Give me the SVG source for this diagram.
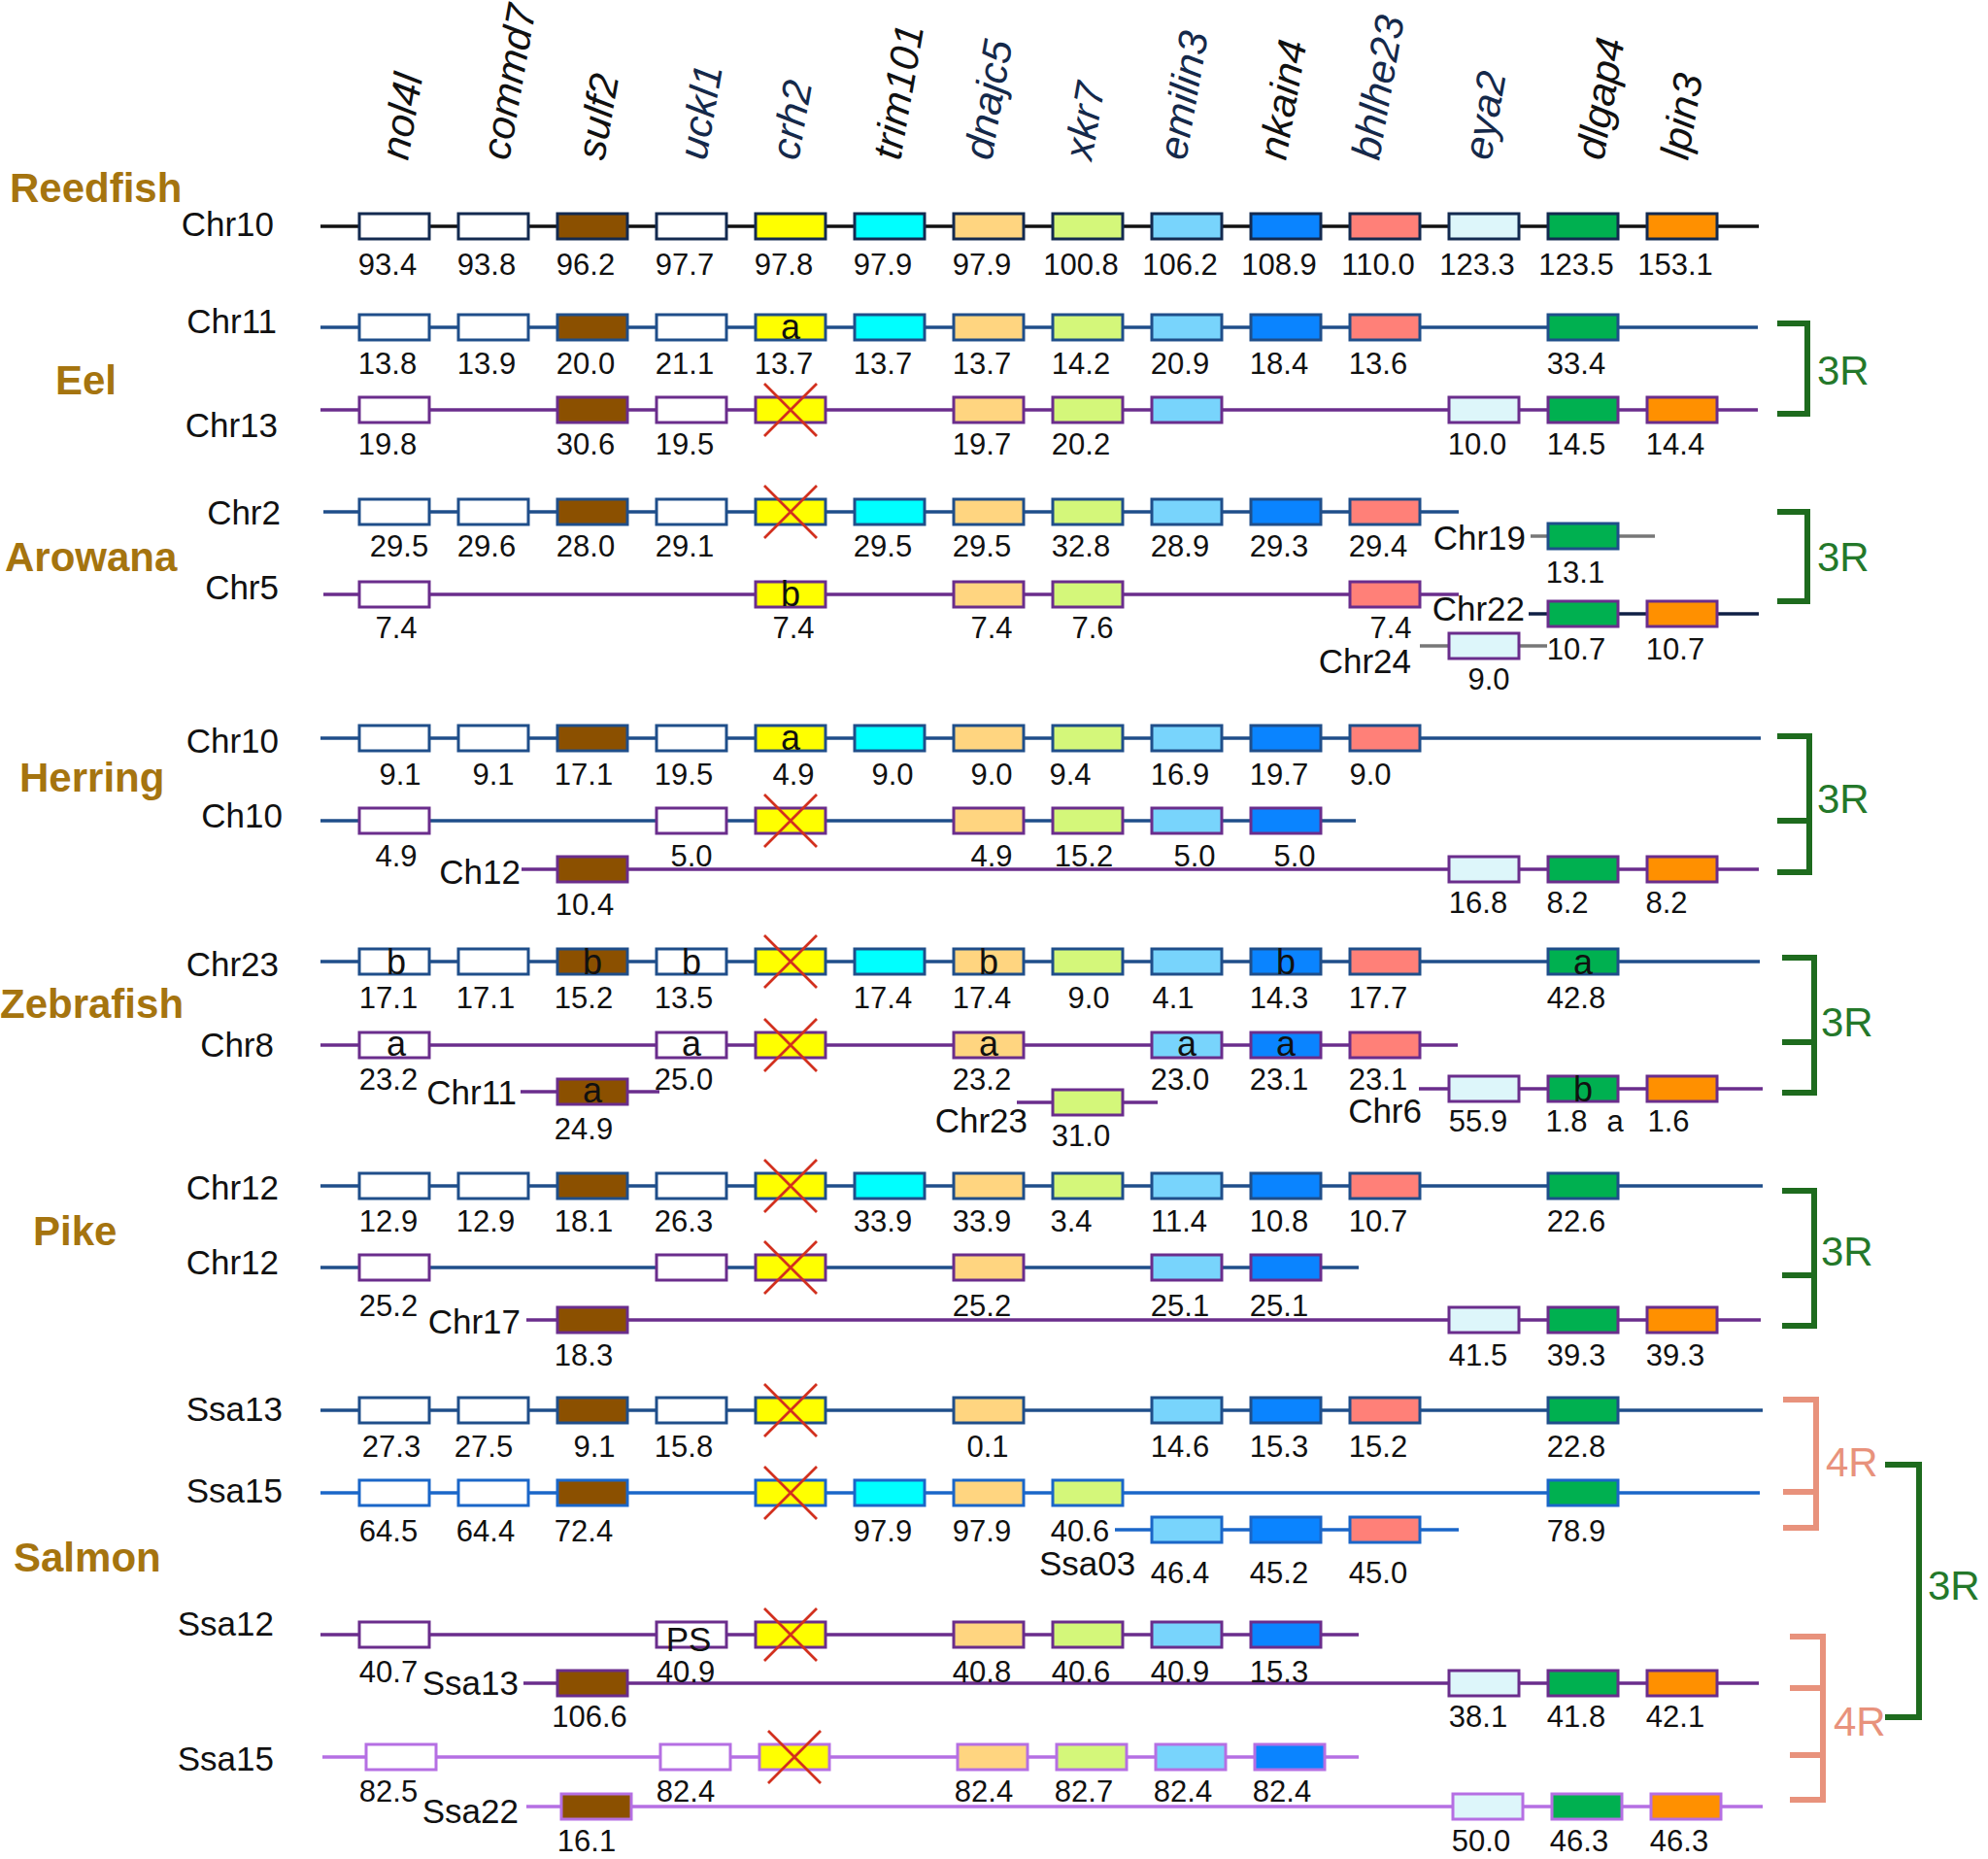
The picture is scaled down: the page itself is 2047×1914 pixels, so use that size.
<svg xmlns="http://www.w3.org/2000/svg" width="2047" height="1914" viewBox="0 0 2047 1914">
<style>
text{font-family:"Liberation Sans",Arial,Helvetica,sans-serif;fill:#111}
.n{font-size:31px;text-anchor:middle}
.ch{font-size:35px;text-anchor:end}
.chs{font-size:35px}
.spc{font-size:42px;font-weight:bold;fill:#a5740f}
.gn{font-size:42px;font-style:italic}
.gv{fill:#15294a}
.bl{font-size:36px;text-anchor:middle}
.r3{font-size:42px;fill:#24782a}
.r4{font-size:42px;fill:#e8927c}
.line{fill:none;stroke-width:3.5}
.lk{stroke:#111}
.lb{stroke:#1f4e8a}
.lp{stroke:#6a2d8c}
.lbb{stroke:#1a66c8}
.ll{stroke:#b56fe3}
.lg{stroke:#777}
.ln{stroke:#0f1f45}
rect{stroke-width:3}
.sk{stroke:#132a50}
.sb{stroke:#1f4e8a}
.sp{stroke:#6a2d8c}
.sbb{stroke:#1a66c8}
.sl{stroke:#b56fe3}
.f0{fill:#fff}.f2{fill:#8b5000}.f4{fill:#ffff00}.f5{fill:#00ffff}.f6{fill:#ffd580}.f7{fill:#d4f77a}.f8{fill:#78d4fc}.f9{fill:#0a84ff}.f10{fill:#ff8078}.f11{fill:#ddf6fa}.f12{fill:#00b050}.f13{fill:#ff9000}
.grn{fill:none;stroke:#1e6b1e;stroke-width:6}
.sal{fill:none;stroke:#e8927c;stroke-width:6}
</style>
<defs>
<path id="xm" d="M-27,-27L27,27M27,-27L-27,27" fill="none" stroke="#d2301e" stroke-width="2.8"/>
</defs>

<g id="gene-names">
<text class="gn" transform="translate(420,166) rotate(-80)">nol4l</text>
<text class="gn" transform="translate(524,166) rotate(-80)">commd7</text>
<text class="gn" transform="translate(622,166) rotate(-80)">sulf2</text>
<text class="gn gv" transform="translate(727,166) rotate(-80)">uckl1</text>
<text class="gn gv" transform="translate(822,166) rotate(-80)">crh2</text>
<text class="gn" transform="translate(927,166) rotate(-80)">trim101</text>
<text class="gn gv" transform="translate(1021,166) rotate(-80)">dnajc5</text>
<text class="gn gv" transform="translate(1124,166) rotate(-80)">xkr7</text>
<text class="gn gv" transform="translate(1221,166) rotate(-80)">emilin3</text>
<text class="gn" transform="translate(1324,166) rotate(-80)">nkain4</text>
<text class="gn gv" transform="translate(1420,166) rotate(-80)">bhlhe23</text>
<text class="gn gv" transform="translate(1535,166) rotate(-80)">eya2</text>
<text class="gn" transform="translate(1651,166) rotate(-80)">dlgap4</text>
<text class="gn" transform="translate(1738,166) rotate(-80)">lpin3</text>
</g>

<g id="species-labels">
<text class="spc" x="10" y="208">Reedfish</text>
<text class="spc" x="57" y="406">Eel</text>
<text class="spc" x="5" y="588">Arowana</text>
<text class="spc" x="20" y="815">Herring</text>
<text class="spc" x="0" y="1048">Zebrafish</text>
<text class="spc" x="34" y="1282">Pike</text>
<text class="spc" x="14" y="1618">Salmon</text>
</g>

<g id="chromosome-lines">
<line class="line lk" x1="330" y1="233" x2="1811" y2="233"/>
<line class="line lb" x1="330" y1="337" x2="1810" y2="337"/>
<line class="line lp" x1="330" y1="422" x2="1810" y2="422"/>
<line class="line lb" x1="333" y1="527" x2="1502" y2="527"/>
<line class="line lg" x1="1576" y1="552" x2="1704" y2="552"/>
<line class="line lp" x1="333" y1="612" x2="1502" y2="612"/>
<line class="line ln" x1="1574" y1="632" x2="1811" y2="632"/>
<line class="line lg" x1="1462" y1="665" x2="1593" y2="665"/>
<line class="line lb" x1="330" y1="760" x2="1813" y2="760"/>
<line class="line lb" x1="330" y1="845" x2="1396" y2="845"/>
<line class="line lp" x1="537" y1="895" x2="1811" y2="895"/>
<line class="line lb" x1="330" y1="990" x2="1812" y2="990"/>
<line class="line lp" x1="330" y1="1076" x2="1501" y2="1076"/>
<line class="line lp" x1="536" y1="1124" x2="679" y2="1124"/>
<line class="line lp" x1="1047" y1="1135" x2="1192" y2="1135"/>
<line class="line lp" x1="1461" y1="1121" x2="1815" y2="1121"/>
<line class="line lb" x1="330" y1="1221" x2="1815" y2="1221"/>
<line class="line lb" x1="330" y1="1305" x2="1399" y2="1305"/>
<line class="line lp" x1="542" y1="1359" x2="1813" y2="1359"/>
<line class="line lb" x1="330" y1="1452" x2="1815" y2="1452"/>
<line class="line lbb" x1="330" y1="1537" x2="1812" y2="1537"/>
<line class="line lbb" x1="1148" y1="1575" x2="1502" y2="1575"/>
<line class="line lp" x1="330" y1="1683" x2="1399" y2="1683"/>
<line class="line lp" x1="539" y1="1733" x2="1811" y2="1733"/>
<line class="line ll" x1="332" y1="1809" x2="1399" y2="1809"/>
<line class="line ll" x1="542" y1="1860" x2="1815" y2="1860"/>
</g>

<g id="reedfish-chr10">
<text class="ch" x="282" y="243">Chr10</text>
<rect class="f0 sk" x="370" y="220" width="72" height="26"/>
<rect class="f0 sk" x="472" y="220" width="72" height="26"/>
<rect class="f2 sk" x="574" y="220" width="72" height="26"/>
<rect class="f0 sk" x="676" y="220" width="72" height="26"/>
<rect class="f4 sk" x="778" y="220" width="72" height="26"/>
<rect class="f5 sk" x="880" y="220" width="72" height="26"/>
<rect class="f6 sk" x="982" y="220" width="72" height="26"/>
<rect class="f7 sk" x="1084" y="220" width="72" height="26"/>
<rect class="f8 sk" x="1186" y="220" width="72" height="26"/>
<rect class="f9 sk" x="1288" y="220" width="72" height="26"/>
<rect class="f10 sk" x="1390" y="220" width="72" height="26"/>
<rect class="f11 sk" x="1492" y="220" width="72" height="26"/>
<rect class="f12 sk" x="1594" y="220" width="72" height="26"/>
<rect class="f13 sk" x="1696" y="220" width="72" height="26"/>
<text class="n" x="399" y="283">93.4</text>
<text class="n" x="501" y="283">93.8</text>
<text class="n" x="603" y="283">96.2</text>
<text class="n" x="705" y="283">97.7</text>
<text class="n" x="807" y="283">97.8</text>
<text class="n" x="909" y="283">97.9</text>
<text class="n" x="1011" y="283">97.9</text>
<text class="n" x="1113" y="283">100.8</text>
<text class="n" x="1215" y="283">106.2</text>
<text class="n" x="1317" y="283">108.9</text>
<text class="n" x="1419" y="283">110.0</text>
<text class="n" x="1521" y="283">123.3</text>
<text class="n" x="1623" y="283">123.5</text>
<text class="n" x="1725" y="283">153.1</text>
</g>

<g id="eel-chr11">
<text class="ch" x="285" y="343">Chr11</text>
<rect class="f0 sb" x="370" y="324" width="72" height="26"/>
<rect class="f0 sb" x="472" y="324" width="72" height="26"/>
<rect class="f2 sb" x="574" y="324" width="72" height="26"/>
<rect class="f0 sb" x="676" y="324" width="72" height="26"/>
<rect class="f4 sb" x="778" y="324" width="72" height="26"/>
<rect class="f5 sb" x="880" y="324" width="72" height="26"/>
<rect class="f6 sb" x="982" y="324" width="72" height="26"/>
<rect class="f7 sb" x="1084" y="324" width="72" height="26"/>
<rect class="f8 sb" x="1186" y="324" width="72" height="26"/>
<rect class="f9 sb" x="1288" y="324" width="72" height="26"/>
<rect class="f10 sb" x="1390" y="324" width="72" height="26"/>
<rect class="f12 sb" x="1594" y="324" width="72" height="26"/>
<text class="bl" x="814" y="349">a</text>
<text class="n" x="399" y="385">13.8</text>
<text class="n" x="501" y="385">13.9</text>
<text class="n" x="603" y="385">20.0</text>
<text class="n" x="705" y="385">21.1</text>
<text class="n" x="807" y="385">13.7</text>
<text class="n" x="909" y="385">13.7</text>
<text class="n" x="1011" y="385">13.7</text>
<text class="n" x="1113" y="385">14.2</text>
<text class="n" x="1215" y="385">20.9</text>
<text class="n" x="1317" y="385">18.4</text>
<text class="n" x="1419" y="385">13.6</text>
<text class="n" x="1623" y="385">33.4</text>
</g>

<g id="eel-chr13">
<text class="ch" x="286" y="450">Chr13</text>
<rect class="f0 sp" x="370" y="409" width="72" height="26"/>
<rect class="f2 sp" x="574" y="409" width="72" height="26"/>
<rect class="f0 sp" x="676" y="409" width="72" height="26"/>
<rect class="f4 sp" x="778" y="409" width="72" height="26"/>
<rect class="f6 sp" x="982" y="409" width="72" height="26"/>
<rect class="f7 sp" x="1084" y="409" width="72" height="26"/>
<rect class="f8 sp" x="1186" y="409" width="72" height="26"/>
<rect class="f11 sp" x="1492" y="409" width="72" height="26"/>
<rect class="f12 sp" x="1594" y="409" width="72" height="26"/>
<rect class="f13 sp" x="1696" y="409" width="72" height="26"/>
<use href="#xm" x="814" y="422"/>
<text class="n" x="399" y="468">19.8</text>
<text class="n" x="603" y="468">30.6</text>
<text class="n" x="705" y="468">19.5</text>
<text class="n" x="1011" y="468">19.7</text>
<text class="n" x="1113" y="468">20.2</text>
<text class="n" x="1521" y="468">10.0</text>
<text class="n" x="1623" y="468">14.5</text>
<text class="n" x="1725" y="468">14.4</text>
</g>

<g id="arowana-chr2">
<text class="ch" x="289" y="540">Chr2</text>
<rect class="f0 sb" x="370" y="514" width="72" height="26"/>
<rect class="f0 sb" x="472" y="514" width="72" height="26"/>
<rect class="f2 sb" x="574" y="514" width="72" height="26"/>
<rect class="f0 sb" x="676" y="514" width="72" height="26"/>
<rect class="f4 sb" x="778" y="514" width="72" height="26"/>
<rect class="f5 sb" x="880" y="514" width="72" height="26"/>
<rect class="f6 sb" x="982" y="514" width="72" height="26"/>
<rect class="f7 sb" x="1084" y="514" width="72" height="26"/>
<rect class="f8 sb" x="1186" y="514" width="72" height="26"/>
<rect class="f9 sb" x="1288" y="514" width="72" height="26"/>
<rect class="f10 sb" x="1390" y="514" width="72" height="26"/>
<use href="#xm" x="814" y="527"/>
<text class="n" x="411" y="573">29.5</text>
<text class="n" x="501" y="573">29.6</text>
<text class="n" x="603" y="573">28.0</text>
<text class="n" x="705" y="573">29.1</text>
<text class="n" x="909" y="573">29.5</text>
<text class="n" x="1011" y="573">29.5</text>
<text class="n" x="1113" y="573">32.8</text>
<text class="n" x="1215" y="573">28.9</text>
<text class="n" x="1317" y="573">29.3</text>
<text class="n" x="1419" y="573">29.4</text>
</g>

<g id="arowana-chr19">
<text class="ch" x="1571" y="566">Chr19</text>
<rect class="f12 sb" x="1594" y="539" width="72" height="26"/>
<text class="n" x="1622" y="600">13.1</text>
</g>

<g id="arowana-chr5">
<text class="ch" x="287" y="617">Chr5</text>
<rect class="f0 sp" x="370" y="599" width="72" height="26"/>
<rect class="f4 sp" x="778" y="599" width="72" height="26"/>
<rect class="f6 sp" x="982" y="599" width="72" height="26"/>
<rect class="f7 sp" x="1084" y="599" width="72" height="26"/>
<rect class="f10 sp" x="1390" y="599" width="72" height="26"/>
<text class="bl" x="814" y="624">b</text>
<text class="n" x="408" y="657">7.4</text>
<text class="n" x="817" y="657">7.4</text>
<text class="n" x="1021" y="657">7.4</text>
<text class="n" x="1125" y="657">7.6</text>
<text class="n" x="1432" y="657">7.4</text>
</g>

<g id="arowana-chr22">
<text class="ch" x="1570" y="639">Chr22</text>
<rect class="f12 sp" x="1594" y="619" width="72" height="26"/>
<rect class="f13 sp" x="1696" y="619" width="72" height="26"/>
<text class="n" x="1623" y="679">10.7</text>
<text class="n" x="1725" y="679">10.7</text>
</g>

<g id="arowana-chr24">
<text class="ch" x="1453" y="693">Chr24</text>
<rect class="f11 sp" x="1492" y="652" width="72" height="26"/>
<text class="n" x="1533" y="710">9.0</text>
</g>

<g id="herring-chr10">
<text class="ch" x="287" y="775">Chr10</text>
<rect class="f0 sb" x="370" y="747" width="72" height="26"/>
<rect class="f0 sb" x="472" y="747" width="72" height="26"/>
<rect class="f2 sb" x="574" y="747" width="72" height="26"/>
<rect class="f0 sb" x="676" y="747" width="72" height="26"/>
<rect class="f4 sb" x="778" y="747" width="72" height="26"/>
<rect class="f5 sb" x="880" y="747" width="72" height="26"/>
<rect class="f6 sb" x="982" y="747" width="72" height="26"/>
<rect class="f7 sb" x="1084" y="747" width="72" height="26"/>
<rect class="f8 sb" x="1186" y="747" width="72" height="26"/>
<rect class="f9 sb" x="1288" y="747" width="72" height="26"/>
<rect class="f10 sb" x="1390" y="747" width="72" height="26"/>
<text class="bl" x="814" y="772">a</text>
<text class="n" x="412" y="808">9.1</text>
<text class="n" x="508" y="808">9.1</text>
<text class="n" x="601" y="808">17.1</text>
<text class="n" x="704" y="808">19.5</text>
<text class="n" x="817" y="808">4.9</text>
<text class="n" x="919" y="808">9.0</text>
<text class="n" x="1021" y="808">9.0</text>
<text class="n" x="1102" y="808">9.4</text>
<text class="n" x="1215" y="808">16.9</text>
<text class="n" x="1317" y="808">19.7</text>
<text class="n" x="1411" y="808">9.0</text>
</g>

<g id="herring-ch10">
<text class="ch" x="291" y="852">Ch10</text>
<rect class="f0 sp" x="370" y="832" width="72" height="26"/>
<rect class="f0 sp" x="676" y="832" width="72" height="26"/>
<rect class="f4 sp" x="778" y="832" width="72" height="26"/>
<rect class="f6 sp" x="982" y="832" width="72" height="26"/>
<rect class="f7 sp" x="1084" y="832" width="72" height="26"/>
<rect class="f8 sp" x="1186" y="832" width="72" height="26"/>
<rect class="f9 sp" x="1288" y="832" width="72" height="26"/>
<use href="#xm" x="814" y="845"/>
<text class="n" x="408" y="892">4.9</text>
<text class="n" x="712" y="892">5.0</text>
<text class="n" x="1021" y="892">4.9</text>
<text class="n" x="1116" y="892">15.2</text>
<text class="n" x="1230" y="892">5.0</text>
<text class="n" x="1333" y="892">5.0</text>
</g>

<g id="herring-ch12">
<text class="ch" x="536" y="910">Ch12</text>
<rect class="f2 sp" x="574" y="882" width="72" height="26"/>
<rect class="f11 sp" x="1492" y="882" width="72" height="26"/>
<rect class="f12 sp" x="1594" y="882" width="72" height="26"/>
<rect class="f13 sp" x="1696" y="882" width="72" height="26"/>
<text class="n" x="602" y="942">10.4</text>
<text class="n" x="1522" y="940">16.8</text>
<text class="n" x="1614" y="940">8.2</text>
<text class="n" x="1716" y="940">8.2</text>
</g>

<g id="zebrafish-chr23">
<text class="ch" x="287" y="1005">Chr23</text>
<rect class="f0 sb" x="370" y="977" width="72" height="26"/>
<rect class="f0 sb" x="472" y="977" width="72" height="26"/>
<rect class="f2 sb" x="574" y="977" width="72" height="26"/>
<rect class="f0 sb" x="676" y="977" width="72" height="26"/>
<rect class="f4 sb" x="778" y="977" width="72" height="26"/>
<rect class="f5 sb" x="880" y="977" width="72" height="26"/>
<rect class="f6 sb" x="982" y="977" width="72" height="26"/>
<rect class="f7 sb" x="1084" y="977" width="72" height="26"/>
<rect class="f8 sb" x="1186" y="977" width="72" height="26"/>
<rect class="f9 sb" x="1288" y="977" width="72" height="26"/>
<rect class="f10 sb" x="1390" y="977" width="72" height="26"/>
<rect class="f12 sb" x="1594" y="977" width="72" height="26"/>
<use href="#xm" x="814" y="990"/>
<text class="bl" x="408" y="1003">b</text>
<text class="bl" x="610" y="1003">b</text>
<text class="bl" x="712" y="1003">b</text>
<text class="bl" x="1018" y="1003">b</text>
<text class="bl" x="1324" y="1003">b</text>
<text class="bl" x="1630" y="1003">a</text>
<text class="n" x="400" y="1038">17.1</text>
<text class="n" x="500" y="1038">17.1</text>
<text class="n" x="601" y="1038">15.2</text>
<text class="n" x="704" y="1038">13.5</text>
<text class="n" x="909" y="1038">17.4</text>
<text class="n" x="1011" y="1038">17.4</text>
<text class="n" x="1121" y="1038">9.0</text>
<text class="n" x="1208" y="1038">4.1</text>
<text class="n" x="1317" y="1038">14.3</text>
<text class="n" x="1419" y="1038">17.7</text>
<text class="n" x="1623" y="1038">42.8</text>
</g>

<g id="zebrafish-chr8">
<text class="ch" x="282" y="1088">Chr8</text>
<rect class="f0 sp" x="370" y="1063" width="72" height="26"/>
<rect class="f0 sp" x="676" y="1063" width="72" height="26"/>
<rect class="f4 sp" x="778" y="1063" width="72" height="26"/>
<rect class="f6 sp" x="982" y="1063" width="72" height="26"/>
<rect class="f8 sp" x="1186" y="1063" width="72" height="26"/>
<rect class="f9 sp" x="1288" y="1063" width="72" height="26"/>
<rect class="f10 sp" x="1390" y="1063" width="72" height="26"/>
<use href="#xm" x="814" y="1076"/>
<text class="bl" x="408" y="1087">a</text>
<text class="bl" x="712" y="1087">a</text>
<text class="bl" x="1018" y="1087">a</text>
<text class="bl" x="1222" y="1087">a</text>
<text class="bl" x="1324" y="1087">a</text>
<text class="n" x="400" y="1122">23.2</text>
<text class="n" x="704" y="1122">25.0</text>
<text class="n" x="1011" y="1122">23.2</text>
<text class="n" x="1215" y="1122">23.0</text>
<text class="n" x="1317" y="1122">23.1</text>
<text class="n" x="1419" y="1122">23.1</text>
</g>

<g id="zebrafish-chr11">
<text class="ch" x="532" y="1137">Chr11</text>
<rect class="f2 sp" x="574" y="1111" width="72" height="26"/>
<text class="bl" x="610" y="1135">a</text>
<text class="n" x="601" y="1173">24.9</text>
</g>

<g id="zebrafish-chr23b">
<text class="ch" x="1058" y="1166">Chr23</text>
<rect class="f7 sp" x="1084" y="1122" width="72" height="26"/>
<text class="n" x="1113" y="1180">31.0</text>
</g>

<g id="zebrafish-chr6">
<text class="ch" x="1464" y="1156">Chr6</text>
<rect class="f11 sp" x="1492" y="1108" width="72" height="26"/>
<rect class="f12 sp" x="1594" y="1108" width="72" height="26"/>
<rect class="f13 sp" x="1696" y="1108" width="72" height="26"/>
<text class="bl" x="1630" y="1134">b</text>
<text class="n" x="1522" y="1165">55.9</text>
<text class="n" x="1613" y="1165">1.8</text>
<text class="n" x="1663" y="1165">a</text>
<text class="n" x="1718" y="1165">1.6</text>
</g>

<g id="pike-chr12">
<text class="ch" x="287" y="1235">Chr12</text>
<rect class="f0 sb" x="370" y="1208" width="72" height="26"/>
<rect class="f0 sb" x="472" y="1208" width="72" height="26"/>
<rect class="f2 sb" x="574" y="1208" width="72" height="26"/>
<rect class="f0 sb" x="676" y="1208" width="72" height="26"/>
<rect class="f4 sb" x="778" y="1208" width="72" height="26"/>
<rect class="f5 sb" x="880" y="1208" width="72" height="26"/>
<rect class="f6 sb" x="982" y="1208" width="72" height="26"/>
<rect class="f7 sb" x="1084" y="1208" width="72" height="26"/>
<rect class="f8 sb" x="1186" y="1208" width="72" height="26"/>
<rect class="f9 sb" x="1288" y="1208" width="72" height="26"/>
<rect class="f10 sb" x="1390" y="1208" width="72" height="26"/>
<rect class="f12 sb" x="1594" y="1208" width="72" height="26"/>
<use href="#xm" x="814" y="1221"/>
<text class="n" x="400" y="1268">12.9</text>
<text class="n" x="500" y="1268">12.9</text>
<text class="n" x="601" y="1268">18.1</text>
<text class="n" x="704" y="1268">26.3</text>
<text class="n" x="909" y="1268">33.9</text>
<text class="n" x="1011" y="1268">33.9</text>
<text class="n" x="1103" y="1268">3.4</text>
<text class="n" x="1214" y="1268">11.4</text>
<text class="n" x="1317" y="1268">10.8</text>
<text class="n" x="1419" y="1268">10.7</text>
<text class="n" x="1623" y="1268">22.6</text>
</g>

<g id="pike-chr12b">
<text class="ch" x="287" y="1312">Chr12</text>
<rect class="f0 sp" x="370" y="1292" width="72" height="26"/>
<rect class="f0 sp" x="676" y="1292" width="72" height="26"/>
<rect class="f4 sp" x="778" y="1292" width="72" height="26"/>
<rect class="f6 sp" x="982" y="1292" width="72" height="26"/>
<rect class="f8 sp" x="1186" y="1292" width="72" height="26"/>
<rect class="f9 sp" x="1288" y="1292" width="72" height="26"/>
<use href="#xm" x="814" y="1305"/>
<text class="n" x="400" y="1355">25.2</text>
<text class="n" x="1011" y="1355">25.2</text>
<text class="n" x="1215" y="1355">25.1</text>
<text class="n" x="1317" y="1355">25.1</text>
</g>

<g id="pike-chr17">
<text class="ch" x="536" y="1373">Chr17</text>
<rect class="f2 sp" x="574" y="1346" width="72" height="26"/>
<rect class="f11 sp" x="1492" y="1346" width="72" height="26"/>
<rect class="f12 sp" x="1594" y="1346" width="72" height="26"/>
<rect class="f13 sp" x="1696" y="1346" width="72" height="26"/>
<text class="n" x="601" y="1406">18.3</text>
<text class="n" x="1522" y="1406">41.5</text>
<text class="n" x="1623" y="1406">39.3</text>
<text class="n" x="1725" y="1406">39.3</text>
</g>

<g id="salmon-ssa13">
<text class="ch" x="291" y="1463">Ssa13</text>
<rect class="f0 sb" x="370" y="1439" width="72" height="26"/>
<rect class="f0 sb" x="472" y="1439" width="72" height="26"/>
<rect class="f2 sb" x="574" y="1439" width="72" height="26"/>
<rect class="f0 sb" x="676" y="1439" width="72" height="26"/>
<rect class="f4 sb" x="778" y="1439" width="72" height="26"/>
<rect class="f6 sb" x="982" y="1439" width="72" height="26"/>
<rect class="f8 sb" x="1186" y="1439" width="72" height="26"/>
<rect class="f9 sb" x="1288" y="1439" width="72" height="26"/>
<rect class="f10 sb" x="1390" y="1439" width="72" height="26"/>
<rect class="f12 sb" x="1594" y="1439" width="72" height="26"/>
<use href="#xm" x="814" y="1452"/>
<text class="n" x="403" y="1500">27.3</text>
<text class="n" x="498" y="1500">27.5</text>
<text class="n" x="612" y="1500">9.1</text>
<text class="n" x="704" y="1500">15.8</text>
<text class="n" x="1017" y="1500">0.1</text>
<text class="n" x="1215" y="1500">14.6</text>
<text class="n" x="1317" y="1500">15.3</text>
<text class="n" x="1419" y="1500">15.2</text>
<text class="n" x="1623" y="1500">22.8</text>
</g>

<g id="salmon-ssa15">
<text class="ch" x="291" y="1547">Ssa15</text>
<rect class="f0 sbb" x="370" y="1524" width="72" height="26"/>
<rect class="f0 sbb" x="472" y="1524" width="72" height="26"/>
<rect class="f2 sbb" x="574" y="1524" width="72" height="26"/>
<rect class="f4 sbb" x="778" y="1524" width="72" height="26"/>
<rect class="f5 sbb" x="880" y="1524" width="72" height="26"/>
<rect class="f6 sbb" x="982" y="1524" width="72" height="26"/>
<rect class="f7 sbb" x="1084" y="1524" width="72" height="26"/>
<rect class="f12 sbb" x="1594" y="1524" width="72" height="26"/>
<use href="#xm" x="814" y="1537"/>
<text class="n" x="400" y="1587">64.5</text>
<text class="n" x="500" y="1587">64.4</text>
<text class="n" x="601" y="1587">72.4</text>
<text class="n" x="909" y="1587">97.9</text>
<text class="n" x="1011" y="1587">97.9</text>
<text class="n" x="1112" y="1587">40.6</text>
<text class="n" x="1623" y="1587">78.9</text>
</g>

<g id="salmon-ssa03">
<text class="chs" x="1070" y="1622">Ssa03</text>
<rect class="f8 sbb" x="1186" y="1562" width="72" height="26"/>
<rect class="f9 sbb" x="1288" y="1562" width="72" height="26"/>
<rect class="f10 sbb" x="1390" y="1562" width="72" height="26"/>
<text class="n" x="1215" y="1630">46.4</text>
<text class="n" x="1317" y="1630">45.2</text>
<text class="n" x="1419" y="1630">45.0</text>
</g>

<g id="salmon-ssa12">
<text class="ch" x="282" y="1684">Ssa12</text>
<rect class="f0 sp" x="370" y="1670" width="72" height="26"/>
<rect class="f0 sp" x="676" y="1670" width="72" height="26"/>
<rect class="f4 sp" x="778" y="1670" width="72" height="26"/>
<rect class="f6 sp" x="982" y="1670" width="72" height="26"/>
<rect class="f7 sp" x="1084" y="1670" width="72" height="26"/>
<rect class="f8 sp" x="1186" y="1670" width="72" height="26"/>
<rect class="f9 sp" x="1288" y="1670" width="72" height="26"/>
<use href="#xm" x="814" y="1683"/>
<text class="bl" x="709" y="1700" style="font-size:35px">PS</text>
<text class="n" x="400" y="1732">40.7</text>
<text class="n" x="706" y="1732">40.9</text>
<text class="n" x="1011" y="1732">40.8</text>
<text class="n" x="1113" y="1732">40.6</text>
<text class="n" x="1215" y="1732">40.9</text>
<text class="n" x="1317" y="1732">15.3</text>
</g>

<g id="salmon-ssa13b">
<text class="ch" x="534" y="1745">Ssa13</text>
<rect class="f2 sp" x="574" y="1720" width="72" height="26"/>
<rect class="f11 sp" x="1492" y="1720" width="72" height="26"/>
<rect class="f12 sp" x="1594" y="1720" width="72" height="26"/>
<rect class="f13 sp" x="1696" y="1720" width="72" height="26"/>
<text class="n" x="607" y="1778">106.6</text>
<text class="n" x="1522" y="1778">38.1</text>
<text class="n" x="1623" y="1778">41.8</text>
<text class="n" x="1725" y="1778">42.1</text>
</g>

<g id="salmon-ssa15b">
<text class="ch" x="282" y="1823">Ssa15</text>
<rect class="f0 sl" x="377" y="1796" width="72" height="26"/>
<rect class="f0 sl" x="680" y="1796" width="72" height="26"/>
<rect class="f4 sl" x="782" y="1796" width="72" height="26"/>
<rect class="f6 sl" x="986" y="1796" width="72" height="26"/>
<rect class="f7 sl" x="1088" y="1796" width="72" height="26"/>
<rect class="f8 sl" x="1190" y="1796" width="72" height="26"/>
<rect class="f9 sl" x="1292" y="1796" width="72" height="26"/>
<use href="#xm" x="818" y="1809"/>
<text class="n" x="400" y="1855">82.5</text>
<text class="n" x="706" y="1855">82.4</text>
<text class="n" x="1013" y="1855">82.4</text>
<text class="n" x="1116" y="1855">82.7</text>
<text class="n" x="1218" y="1855">82.4</text>
<text class="n" x="1320" y="1855">82.4</text>
</g>

<g id="salmon-ssa22">
<text class="ch" x="534" y="1877">Ssa22</text>
<rect class="f2 sl" x="578" y="1847" width="72" height="26"/>
<rect class="f11 sl" x="1496" y="1847" width="72" height="26"/>
<rect class="f12 sl" x="1598" y="1847" width="72" height="26"/>
<rect class="f13 sl" x="1700" y="1847" width="72" height="26"/>
<text class="n" x="604" y="1906">16.1</text>
<text class="n" x="1525" y="1906">50.0</text>
<text class="n" x="1626" y="1906">46.3</text>
<text class="n" x="1729" y="1906">46.3</text>
</g>

<g id="brackets">
<path class="grn" d="M1830,333H1861V426H1830"/>
<text class="r3" x="1871" y="396">3R</text>
<path class="grn" d="M1830,527H1861V619H1830"/>
<text class="r3" x="1871" y="588">3R</text>
<path class="grn" d="M1830,758H1863V898H1830M1830,845H1863"/>
<text class="r3" x="1871" y="837">3R</text>
<path class="grn" d="M1835,986H1868V1125H1835M1835,1073H1868"/>
<text class="r3" x="1875" y="1067">3R</text>
<path class="grn" d="M1835,1226H1868V1365H1835M1835,1313H1868"/>
<text class="r3" x="1875" y="1303">3R</text>
<path class="sal" d="M1836,1441H1870V1573H1836M1836,1536H1870"/>
<text class="r4" x="1880" y="1520">4R</text>
<path class="sal" d="M1843,1685H1877V1853H1843M1843,1738H1877M1843,1807H1877"/>
<text class="r4" x="1888" y="1787">4R</text>
<path class="grn" d="M1941,1508H1976V1768H1941"/>
<text class="r3" x="1985" y="1647">3R</text>
</g>
</svg>
